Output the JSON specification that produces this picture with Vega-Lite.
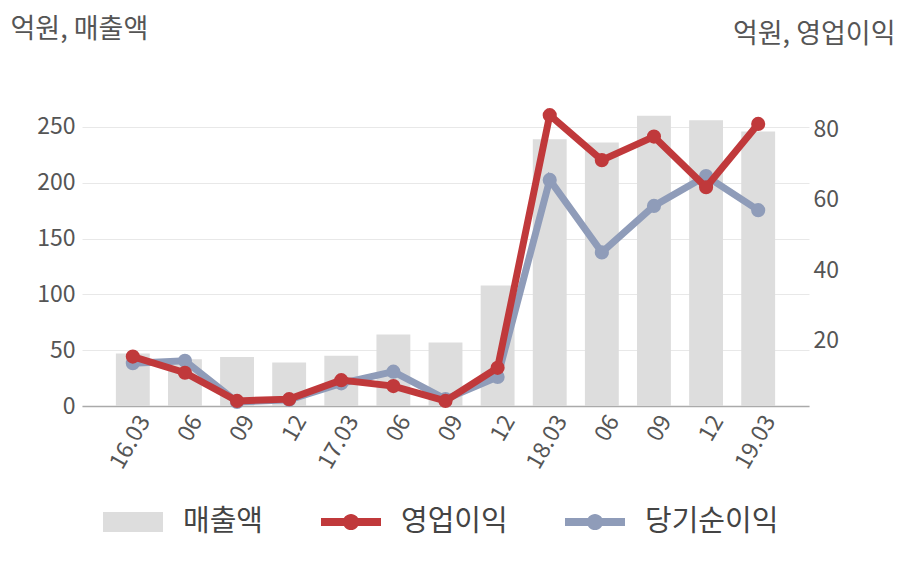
{
  "$schema": "https://vega.github.io/schema/vega-lite/v6.json",
  "width": 727,
  "height": 300,
  "autosize": {"type": "none"},
  "padding": {"left": 82, "top": 106, "right": 99, "bottom": 174},
  "config": {
    "font": "Noto Sans CJK KR",
    "view": {"stroke": null},
    "axis": {"labelColor": "#555555", "titleColor": "#555555", "labelFontSize": 23, "titleFontSize": 27, "titleFontWeight": "normal", "ticks": false}
  },
  "data": {
    "values": [
      {"p": "16.03", "s": "매출액", "v": 47},
      {"p": "16.06", "s": "매출액", "v": 42},
      {"p": "16.09", "s": "매출액", "v": 44},
      {"p": "16.12", "s": "매출액", "v": 39},
      {"p": "17.03", "s": "매출액", "v": 45},
      {"p": "17.06", "s": "매출액", "v": 64},
      {"p": "17.09", "s": "매출액", "v": 57},
      {"p": "17.12", "s": "매출액", "v": 108},
      {"p": "18.03", "s": "매출액", "v": 239},
      {"p": "18.06", "s": "매출액", "v": 236},
      {"p": "18.09", "s": "매출액", "v": 260},
      {"p": "18.12", "s": "매출액", "v": 256},
      {"p": "19.03", "s": "매출액", "v": 246},
      {"p": "16.03", "s": "영업이익", "v": 15.5},
      {"p": "16.06", "s": "영업이익", "v": 10.9},
      {"p": "16.09", "s": "영업이익", "v": 2.9},
      {"p": "16.12", "s": "영업이익", "v": 3.4},
      {"p": "17.03", "s": "영업이익", "v": 8.8},
      {"p": "17.06", "s": "영업이익", "v": 7.1},
      {"p": "17.09", "s": "영업이익", "v": 2.9},
      {"p": "17.12", "s": "영업이익", "v": 12.3},
      {"p": "18.03", "s": "영업이익", "v": 84.1},
      {"p": "18.06", "s": "영업이익", "v": 71.3},
      {"p": "18.09", "s": "영업이익", "v": 78.0},
      {"p": "18.12", "s": "영업이익", "v": 63.6},
      {"p": "19.03", "s": "영업이익", "v": 81.6},
      {"p": "16.03", "s": "당기순이익", "v": 13.6},
      {"p": "16.06", "s": "당기순이익", "v": 14.3},
      {"p": "16.09", "s": "당기순이익", "v": 2.6},
      {"p": "16.12", "s": "당기순이익", "v": 3.2},
      {"p": "17.03", "s": "당기순이익", "v": 7.9},
      {"p": "17.06", "s": "당기순이익", "v": 11.2},
      {"p": "17.09", "s": "당기순이익", "v": 3.4},
      {"p": "17.12", "s": "당기순이익", "v": 9.7},
      {"p": "18.03", "s": "당기순이익", "v": 65.7},
      {"p": "18.06", "s": "당기순이익", "v": 45.1},
      {"p": "18.09", "s": "당기순이익", "v": 58.3},
      {"p": "18.12", "s": "당기순이익", "v": 66.8},
      {"p": "19.03", "s": "당기순이익", "v": 57.1}
    ]
  },
  "encoding": {
    "x": {
      "field": "p",
      "type": "ordinal",
      "sort": null,
      "scale": {"paddingInner": 0.35, "paddingOuter": 0.65},
      "axis": {
        "title": null,
        "labelAngle": -60,
        "labelAlign": "right",
        "labelBaseline": "middle",
        "labelPadding": 11,
        "labelOffset": 12,
        "labelExpr": "substring(datum.value, 3) == '03' ? datum.value : substring(datum.value, 3)",
        "domain": true,
        "domainColor": "#aaaaaa",
        "domainWidth": 1.5,
        "grid": false
      }
    }
  },
  "layer": [
    {
      "transform": [{"filter": "datum.s === '매출액'"}],
      "mark": {"type": "bar", "color": "#dddddd"},
      "encoding": {
        "y": {
          "field": "v",
          "type": "quantitative",
          "scale": {"domain": [0, 268.8], "nice": false},
          "axis": {
            "values": [0, 50, 100, 150, 200, 250],
            "grid": true,
            "gridColor": "#e8e8e8",
            "domain": false,
            "labelPadding": 7,
            "title": "억원, 매출액",
            "titleAngle": 0,
            "titleAlign": "left",
            "titleBaseline": "middle",
            "titleX": -72,
            "titleY": -77
          }
        }
      }
    },
    {
      "encoding": {
        "y": {
          "field": "v",
          "type": "quantitative",
          "scale": {"domain": [1.45, 86.7], "nice": false, "zero": false},
          "axis": {
            "orient": "right",
            "values": [20, 40, 60, 80],
            "grid": false,
            "domain": false,
            "labelPadding": 4,
            "title": "억원, 영업이익",
            "titleAngle": 0,
            "titleAlign": "right",
            "titleBaseline": "middle",
            "titleX": 86,
            "titleY": -72
          }
        }
      },
      "layer": [
        {
          "transform": [{"filter": "datum.s === '당기순이익'"}],
          "mark": {"type": "line", "color": "#8f9cb9", "strokeWidth": 7},
          "encoding": {}
        },
        {
          "transform": [{"filter": "datum.s === '당기순이익'"}],
          "mark": {"type": "point", "filled": true, "opacity": 1, "color": "#8f9cb9", "size": 200},
          "encoding": {}
        },
        {
          "transform": [{"filter": "datum.s === '영업이익'"}],
          "mark": {"type": "line", "color": "#c0393b", "strokeWidth": 7},
          "encoding": {}
        },
        {
          "transform": [{"filter": "datum.s === '영업이익'"}],
          "mark": {"type": "point", "filled": true, "opacity": 1, "color": "#c0393b", "size": 200},
          "encoding": {}
        },
        {
          "transform": [{"filter": "false"}],
          "mark": {"type": "point", "filled": true, "opacity": 1, "size": 3600, "strokeWidth": 0},
          "encoding": {
            "color": {
              "field": "s",
              "type": "nominal",
              "scale": {"domain": ["매출액", "영업이익", "당기순이익"], "range": ["#dddddd", "#c0393b", "#8f9cb9"]},
              "legend": {
                "title": null,
                "orient": "none",
                "direction": "horizontal",
                "legendX": 21,
                "legendY": 386,
                "symbolSize": 3600,
                "symbolStrokeWidth": 0,
                "labelFontSize": 29,
                "labelColor": "#444444",
                "labelOffset": 20,
                "columnPadding": 57
              }
            },
            "shape": {
              "field": "s",
              "type": "nominal",
              "scale": {
                "domain": ["매출액", "영업이익", "당기순이익"],
                "range": [
                  "M-1,-0.333H1V0.333H-1Z",
                  "M-1,-0.13H1V0.13H-1Z M-0.27,0A0.27,0.27 0 1,1 0.27,0A0.27,0.27 0 1,1 -0.27,0Z",
                  "M-1,-0.13H1V0.13H-1Z M-0.27,0A0.27,0.27 0 1,1 0.27,0A0.27,0.27 0 1,1 -0.27,0Z"
                ]
              },
              "legend": {
                "title": null,
                "orient": "none",
                "direction": "horizontal",
                "legendX": 21,
                "legendY": 386,
                "symbolSize": 3600,
                "symbolStrokeWidth": 0,
                "labelFontSize": 29,
                "labelColor": "#444444",
                "labelOffset": 20,
                "columnPadding": 57
              }
            }
          }
        }
      ]
    }
  ],
  "resolve": {"scale": {"y": "independent"}}
}
